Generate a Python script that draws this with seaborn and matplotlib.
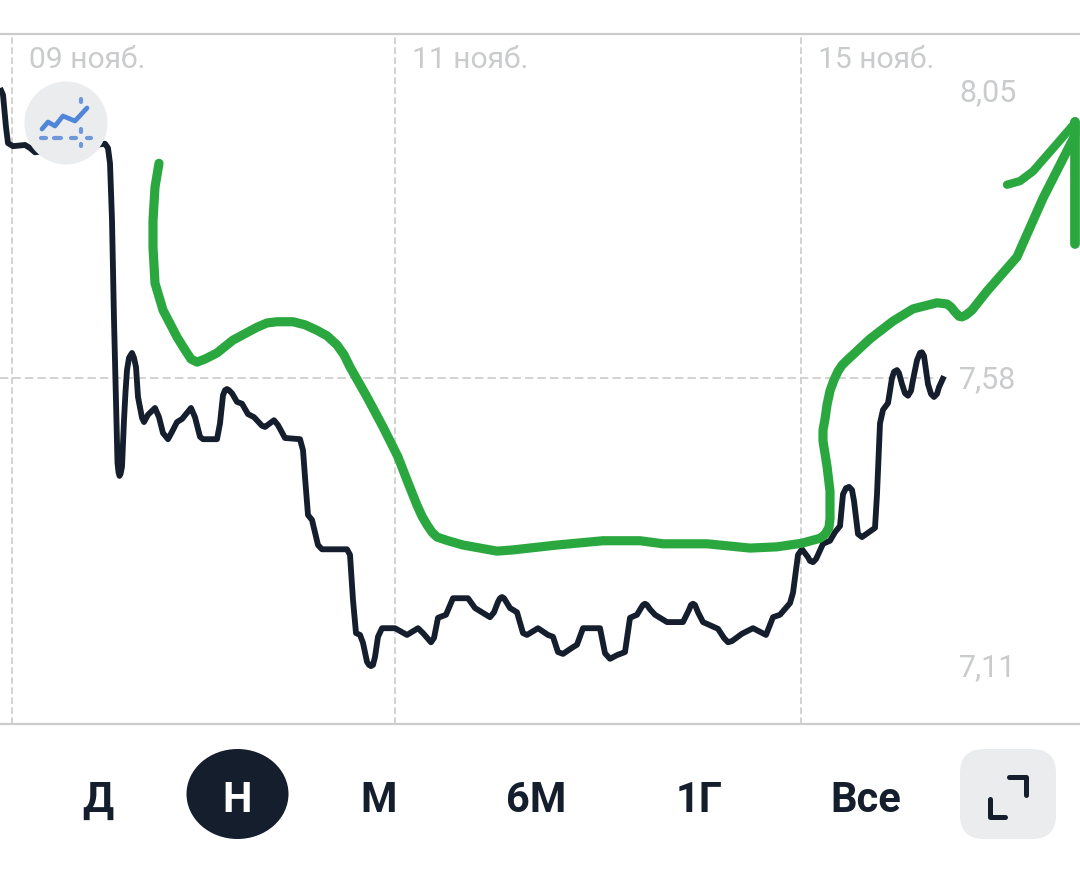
import matplotlib
matplotlib.use("Agg")
import matplotlib.pyplot as plt
from matplotlib.patches import Ellipse, FancyBboxPatch
import pandas as pd
import seaborn as sns

# ----- Data -----
date_ticks = [12, 395, 801]
date_labels = ["09 нояб.", "11 нояб.", "15 нояб."]
price_ticks = [8.05, 7.58, 7.11]
price_labels = ["8,05", "7,58", "7,11"]
periods = ["Д", "Н", "М", "6М", "1Г", "Все"]

price_points = [
    (0, 8.054), (3, 8.043), (6, 7.990), (8, 7.964), (13, 7.959), (25, 7.961), (30, 7.956), (35, 7.949),
    (105, 7.963), (108, 7.956), (110, 7.931), (112, 7.838), (114, 7.675), (116, 7.539), (117.5, 7.441),
    (118.5, 7.426), (119.5, 7.420), (120.5, 7.423), (122, 7.435), (124, 7.511), (125.5, 7.557), (127, 7.593),
    (129, 7.613), (132, 7.621), (134, 7.613), (136, 7.598), (138, 7.549), (142, 7.515), (144, 7.508),
    (148, 7.520), (155, 7.531), (159, 7.516), (163, 7.490), (168, 7.480), (172, 7.492), (177, 7.508),
    (182, 7.513), (191, 7.531), (195, 7.516), (200, 7.484), (203, 7.480), (217, 7.480), (220, 7.506),
    (223, 7.552), (225, 7.560), (227, 7.562), (229, 7.560), (232, 7.555), (237, 7.541), (242, 7.538),
    (248, 7.521), (254, 7.516), (262, 7.502), (265, 7.500), (274, 7.511), (278, 7.503), (285, 7.482),
    (300, 7.480), (303, 7.462), (305, 7.418), (308, 7.356), (312, 7.348), (318, 7.307), (322, 7.300),
    (347, 7.300), (350, 7.291), (353, 7.217), (356, 7.163), (360, 7.160), (363, 7.147), (367, 7.116),
    (369, 7.111), (371, 7.109), (373, 7.111), (375, 7.124), (378, 7.157), (382, 7.171), (395, 7.171),
    (407, 7.160), (418, 7.171), (423, 7.163), (431, 7.148), (434, 7.155), (438, 7.188), (446, 7.193),
    (453, 7.220), (468, 7.220), (475, 7.204), (482, 7.197), (490, 7.189), (494, 7.197), (498, 7.214),
    (500, 7.220), (502, 7.222), (504, 7.220), (507, 7.212), (510, 7.204), (517, 7.197), (523, 7.163),
    (527, 7.160), (538, 7.171), (548, 7.160), (553, 7.157), (558, 7.132), (563, 7.129), (572, 7.139),
    (577, 7.144), (583, 7.171), (600, 7.171), (605, 7.130), (610, 7.121), (617, 7.127), (625, 7.132),
    (630, 7.188), (637, 7.193), (641, 7.204), (643, 7.209), (645, 7.211), (647, 7.209), (650, 7.202),
    (655, 7.193), (667, 7.181), (683, 7.181), (689, 7.201), (691, 7.209), (693, 7.211), (695, 7.209),
    (698, 7.197), (703, 7.181), (718, 7.170), (724, 7.155), (728, 7.148), (732, 7.150), (742, 7.162),
    (753, 7.171), (766, 7.160), (773, 7.189), (780, 7.193), (790, 7.212), (793, 7.229), (798, 7.291),
    (802, 7.300), (808, 7.287), (810, 7.281), (813, 7.279), (816, 7.284), (818, 7.291), (823, 7.309),
    (830, 7.314), (835, 7.328), (840, 7.338), (843, 7.390), (846, 7.400), (849, 7.402), (852, 7.397),
    (854, 7.379), (858, 7.325), (862, 7.320), (875, 7.335), (877, 7.390), (880, 7.506), (883, 7.528),
    (888, 7.539), (892, 7.580), (894, 7.590), (897, 7.593), (899, 7.588), (902, 7.570), (905, 7.555),
    (908, 7.551), (911, 7.559), (913, 7.577), (917, 7.609), (920, 7.621), (922, 7.622), (924, 7.616),
    (928, 7.570), (931, 7.554), (934, 7.549), (937, 7.554), (939, 7.565), (944, 7.583),
]
price_x = [p[0] for p in price_points]
price_y = [p[1] for p in price_points]

# hand drawn green arrow on top of the chart
arrow_points = [
    (159, 7.931), (155, 7.892), (153, 7.838), (153, 7.794), (155, 7.735), (163, 7.691), (177, 7.647),
    (185, 7.626), (191, 7.611), (197, 7.606), (205, 7.611), (217, 7.621), (233, 7.642), (257, 7.663),
    (267, 7.670), (277, 7.672), (293, 7.672), (305, 7.667), (317, 7.658), (327, 7.649), (337, 7.634),
    (344, 7.618), (350, 7.598), (367, 7.549), (383, 7.500), (398, 7.451), (407, 7.413), (417, 7.372),
    (422, 7.354), (427, 7.340), (432, 7.328), (437, 7.320), (448, 7.314), (463, 7.307), (497, 7.297),
    (513, 7.299), (557, 7.307), (603, 7.314), (640, 7.314), (663, 7.309), (707, 7.309), (750, 7.302),
    (777, 7.304), (802, 7.310), (820, 7.318), (824, 7.323), (826, 7.327), (829, 7.336), (830, 7.350),
    (830, 7.372), (830, 7.395), (827, 7.436), (823, 7.477), (823, 7.495), (825, 7.513), (827, 7.536),
    (830, 7.559), (834, 7.577), (838, 7.591), (842, 7.601), (847, 7.609), (870, 7.644), (893, 7.673),
    (913, 7.693), (937, 7.703), (947, 7.701), (951, 7.696), (955, 7.688), (959, 7.681), (962, 7.680),
    (966, 7.683), (972, 7.691), (987, 7.722), (1017, 7.778), (1027, 7.815), (1043, 7.874), (1075, 7.977),
    (1075, 7.999),
]
arrow_x = [p[0] for p in arrow_points]
arrow_y = [p[1] for p in arrow_points]
barb_left_x = [1007, 1020, 1033, 1057, 1075]
barb_left_y = [7.896, 7.902, 7.918, 7.963, 7.997]
barb_down_x = [1075, 1075]
barb_down_y = [7.999, 7.799]

# ----- Configuration -----
sns.set_style("white")
plt.rcParams["font.family"] = ["Roboto", "DejaVu Sans"]

dark = "#141e2d"
green = "#2aa83f"
grid_color = "#cbcbcb"
label_color = "#c9cbcc"
pale = "#eaecee"
blue = "#4f86d9"

fig = plt.figure(figsize=(10.8, 8.75), dpi=100, facecolor="white")

# ----- Main chart -----
ax = fig.add_axes([0, 151 / 875, 1, 690 / 875])
ax.set_xlim(0, 1080)
ax.set_ylim(7.0144, 8.1424)

ax.vlines(date_ticks, 7.0144, 8.1424, color=grid_color, lw=1.2, ls=(0, (4, 2)), zorder=1)
ax.hlines(price_ticks[1], 0, 938, color=grid_color, lw=1.2, ls=(0, (5, 2.5)), zorder=1)

price_df = pd.DataFrame({"x": price_x, "y": price_y})
sns.lineplot(data=price_df, x="x", y="y", estimator=None, sort=False, color=dark, linewidth=4.2,
             solid_joinstyle="round", solid_capstyle="butt", ax=ax, zorder=2)

for xs, ys, width in [(arrow_x, arrow_y, 6.6), (barb_left_x, barb_left_y, 6.0), (barb_down_x, barb_down_y, 7.0)]:
    sns.lineplot(x=xs, y=ys, estimator=None, sort=False, color=green, linewidth=width,
                 solid_joinstyle="round", solid_capstyle="round", ax=ax, zorder=3)

for pos, label in zip(date_ticks, date_labels):
    ax.annotate(label, (pos, 1), xycoords=("data", "axes fraction"), xytext=(12.5, -19),
                textcoords="offset points", ha="left", va="center", fontsize=21.6, color=label_color)
for value, label in zip(price_ticks, price_labels):
    ax.annotate(label, (988, value), xytext=(0, -1.4), textcoords="offset points",
                ha="center", va="center", fontsize=22, color=label_color)

ax.set_xticks([])
ax.set_yticks([])
ax.set_xlabel("")
ax.set_ylabel("")
for spine in ["left", "right"]:
    ax.spines[spine].set_visible(False)
for spine in ["top", "bottom"]:
    ax.spines[spine].set_color(grid_color)
    ax.spines[spine].set_linewidth(1.6)

# ----- Buttons and icons, in picture pixels -----
ui = fig.add_axes([0, 0, 1, 1], facecolor="none")
ui.set_xlim(0, 1080)
ui.set_ylim(875, 0)
ui.axis("off")

ui.add_patch(Ellipse((66, 123), 83, 83, color=pale, lw=0))
ui.plot([42, 48, 55, 63, 75, 87], [129, 122, 126, 116, 121, 108], color=blue, lw=3.4,
        solid_joinstyle="round", solid_capstyle="round")
for x0, x1 in [(41, 46), (54, 61), (71, 76), (87, 91)]:
    ui.plot([x0, x1], [138, 138], color="#6f97da", lw=3, solid_capstyle="round")
for y0, y1 in [(99, 102), (129, 132), (144, 146)]:
    ui.plot([81, 81], [y0, y1], color="#6f97da", lw=3, solid_capstyle="round")

ui.add_patch(Ellipse((237.5, 794), 102, 90, color=dark, lw=0))
ui.add_patch(FancyBboxPatch((960, 749), 96, 90, boxstyle="round,pad=0,rounding_size=24",
                            lw=0, color=pale))
ui.plot([1009, 1026, 1026], [777, 777, 795], color=dark, lw=3.6, solid_joinstyle="round", solid_capstyle="round")
ui.plot([990, 990, 1005], [799, 816.5, 816.5], color=dark, lw=3.6, solid_joinstyle="round", solid_capstyle="round")

button_x = [98, 237, 379, 536, 699, 866]
for pos, label in zip(button_x, periods):
    ui.text(pos, 796, label, ha="center", va="center_baseline", fontsize=30, fontweight="bold",
            color="white" if label == "Н" else dark)

fig.savefig("out.png", dpi=100)
